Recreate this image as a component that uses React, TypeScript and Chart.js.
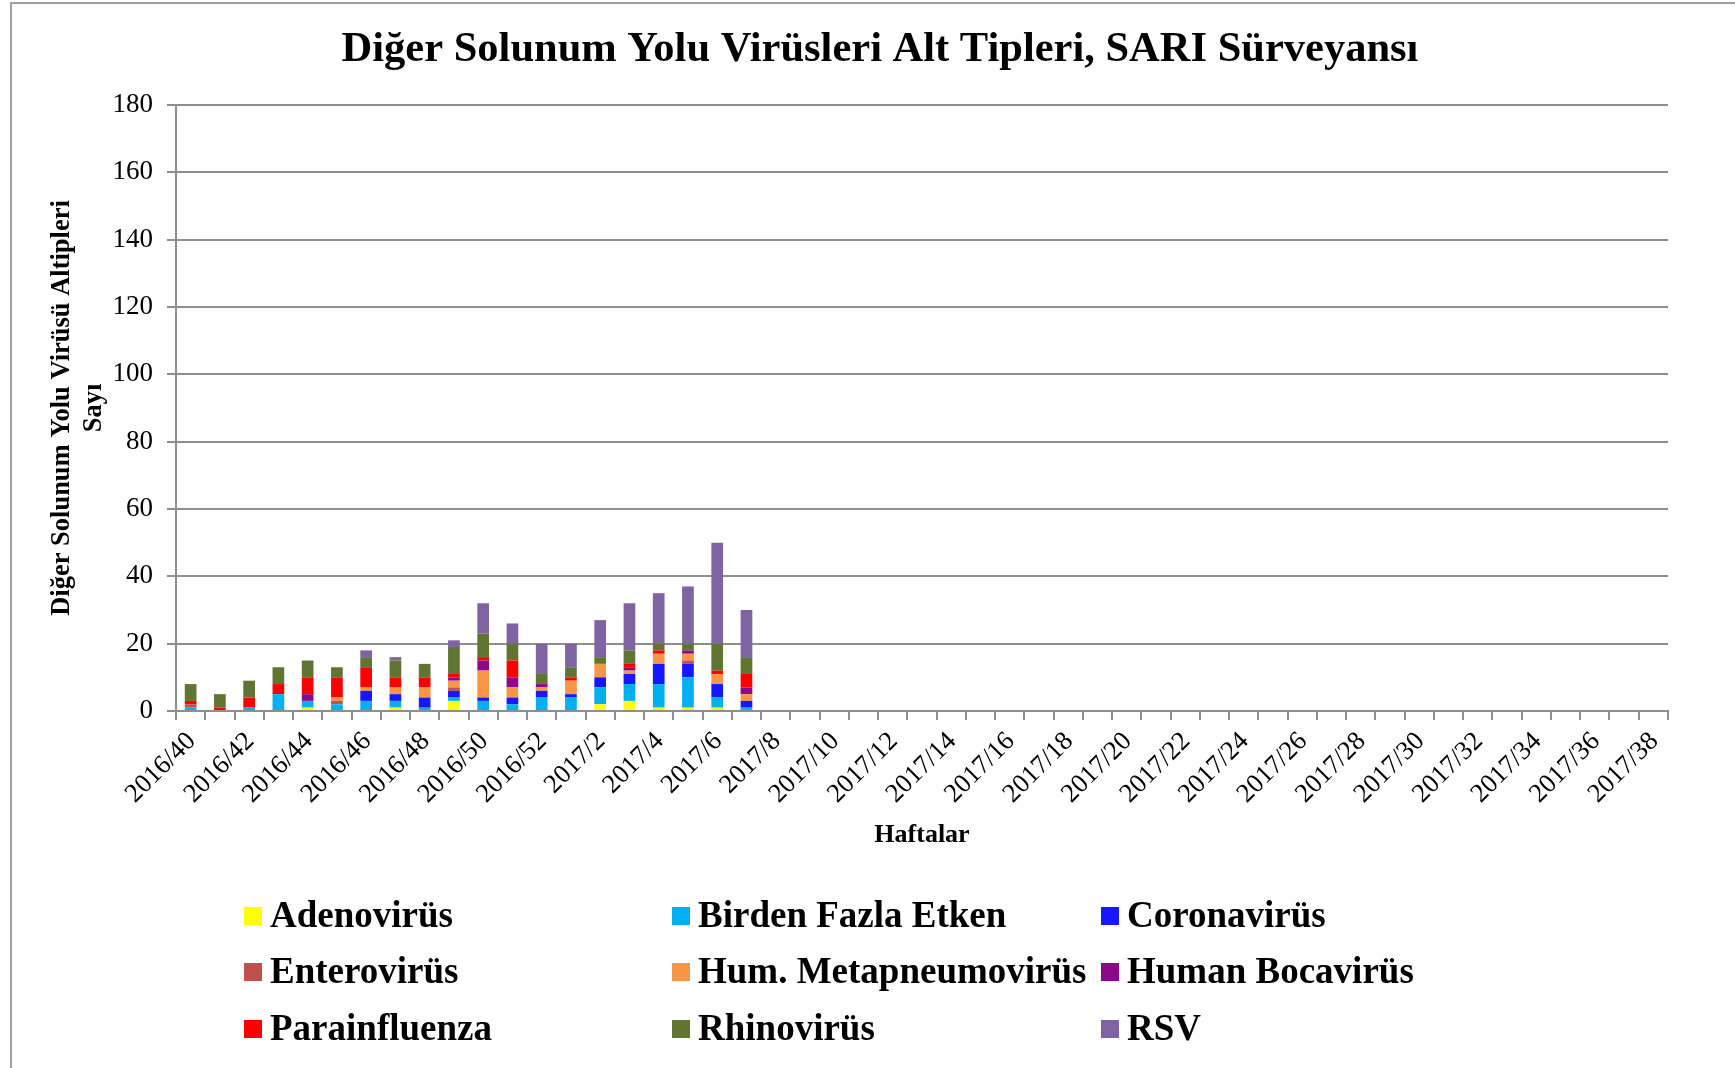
import React, { useEffect, useRef } from 'react';
import { Chart, registerables } from 'chart.js';

Chart.register(...registerables);

const WEEKS = [
  '2016/40', '2016/41', '2016/42', '2016/43', '2016/44', '2016/45', '2016/46', '2016/47', '2016/48', '2016/49',
  '2016/50', '2016/51', '2016/52', '2017/1', '2017/2', '2017/3', '2017/4', '2017/5', '2017/6', '2017/7',
  '2017/8', '2017/9', '2017/10', '2017/11', '2017/12', '2017/13', '2017/14', '2017/15', '2017/16', '2017/17',
  '2017/18', '2017/19', '2017/20', '2017/21', '2017/22', '2017/23', '2017/24', '2017/25', '2017/26', '2017/27',
  '2017/28', '2017/29', '2017/30', '2017/31', '2017/32', '2017/33', '2017/34', '2017/35', '2017/36', '2017/37',
  '2017/38',
];

const ADENOVIRUS = [0, 0, 0, 0, 1, 0, 0, 1, 0, 3, 0, 0, 0, 0, 2, 3, 1, 1, 1, 0];
const BIRDEN_FAZLA = [1, 0, 1, 5, 2, 2, 3, 2, 1, 1, 3, 2, 4, 4, 5, 5, 7, 9, 3, 1];
const CORONAVIRUS = [0, 0, 0, 0, 0, 0, 3, 2, 3, 2, 1, 2, 2, 1, 3, 3, 6, 4, 4, 2];
const ENTEROVIRUS = [1, 0, 0, 0, 0, 1, 0, 0, 0, 1, 0, 0, 0, 0, 0, 0, 0, 1, 0, 0];
const METAPNEUMO = [0, 0, 0, 0, 0, 1, 1, 2, 3, 2, 8, 3, 1, 4, 4, 1, 3, 2, 3, 2];
const BOCAVIRUS = [0, 0, 0, 0, 2, 0, 0, 0, 0, 1, 3, 3, 1, 0, 0, 1, 0, 1, 0, 2];
const PARAINFLUENZA = [1, 1, 3, 3, 5, 6, 6, 3, 3, 1, 1, 5, 0, 1, 0, 1, 1, 0, 1, 4];
const RHINOVIRUS = [5, 4, 5, 5, 5, 3, 3, 5, 4, 8, 7, 5, 3, 3, 2, 4, 2, 2, 8, 5];
const RSV = [0, 0, 0, 0, 0, 0, 2, 1, 0, 2, 9, 6, 9, 7, 11, 14, 15, 17, 30, 14];

const SERIES_NAMES = [
  'Adenovirüs', 'Birden Fazla Etken', 'Coronavirüs',
  'Enterovirüs', 'Hum. Metapneumovirüs', 'Human Bocavirüs',
  'Parainfluenza', 'Rhinovirüs', 'RSV',
];
const SERIES_VALUES = [
  ADENOVIRUS, BIRDEN_FAZLA, CORONAVIRUS,
  ENTEROVIRUS, METAPNEUMO, BOCAVIRUS,
  PARAINFLUENZA, RHINOVIRUS, RSV,
];
const SERIES_COLORS = [
  '#FFFF00', '#00B0F0', '#1616FF',
  '#C0504D', '#F79646', '#8B0A8B',
  '#FF0000', '#5F7531', '#8064A2',
];

const TITLE = 'Diğer Solunum Yolu Virüsleri Alt Tipleri, SARI Sürveyansı';
const Y_TITLE = ['Diğer Solunum Yolu Virüsü Altipleri', 'Sayı'];
const X_TITLE = 'Haftalar';

const SERIF = '"Liberation Serif", "Times New Roman", serif';
const GRID = '#8e8e8e';

const W = 1735;
const H = 1068;

const decorPlugin = {
  id: 'decor',
  beforeDraw(chart: any) {
    const ctx = chart.ctx;
    ctx.save();
    ctx.fillStyle = '#ffffff';
    ctx.fillRect(0, 0, chart.width, chart.height);
    ctx.strokeStyle = '#a0a0a0';
    ctx.lineWidth = 2;
    ctx.beginPath();
    ctx.moveTo(11, chart.height);
    ctx.lineTo(11, 3);
    ctx.lineTo(chart.width, 3);
    ctx.stroke();
    ctx.restore();
  },
  afterDraw(chart: any) {
    const ctx = chart.ctx;
    ctx.save();
    // Title
    ctx.fillStyle = '#000';
    ctx.font = `bold 42.5px ${SERIF}`;
    ctx.textAlign = 'center';
    ctx.textBaseline = 'middle';
    ctx.fillText(TITLE, 880, 50);

    // Legend (3 columns x 3 rows)
    const colSquareX = [244, 672, 1101];
    const rowY = [916, 972, 1029];
    ctx.font = `bold 37px ${SERIF}`;
    ctx.textAlign = 'left';
    chart.data.datasets.forEach((ds: any, i: number) => {
      const col = i % 3;
      const row = Math.floor(i / 3);
      const x = colSquareX[col];
      const y = rowY[row];
      ctx.fillStyle = ds.backgroundColor;
      ctx.fillRect(x, y - 9, 18, 18);
      ctx.fillStyle = '#000';
      ctx.fillText(ds.label, x + 26, y + 1);
    });
    ctx.restore();
  },
};

export default function App() {
  const canvasRef = useRef<HTMLCanvasElement | null>(null);

  useEffect(() => {
    const canvas = canvasRef.current;
    if (!canvas) return;
    const chart = new Chart(canvas, {
      type: 'bar',
      data: {
        labels: WEEKS,
        datasets: SERIES_NAMES.map((name, i) => ({
          label: name,
          data: SERIES_VALUES[i],
          backgroundColor: SERIES_COLORS[i],
          borderWidth: 0,
          categoryPercentage: 1,
          barPercentage: 0.4,
        })),
      },
      options: {
        responsive: false,
        animation: false,
        devicePixelRatio: 1,
        layout: { padding: { left: 0, top: 105, right: 67, bottom: 217 } },
        plugins: {
          legend: { display: false },
          title: { display: false },
          tooltip: { enabled: false },
        },
        scales: {
          x: {
            stacked: true,
            offset: true,
            grid: {
              display: true,
              drawOnChartArea: false,
              drawTicks: true,
              tickLength: 9,
              color: GRID,
              lineWidth: 2,
              offset: true,
            },
            border: { display: true, color: GRID, width: 2 },
            ticks: {
              autoSkip: false,
              minRotation: 45,
              maxRotation: 45,
              padding: 6,
              labelOffset: 1,
              color: '#000',
              font: { family: SERIF, size: 26.5 },
              callback: (_v: any, i: number) => (i % 2 === 0 ? WEEKS[i] : ''),
            },
            title: {
              display: true,
              text: X_TITLE,
              color: '#000',
              font: { family: SERIF, size: 26, weight: 'bold' },
              padding: { top: 0, bottom: 0 },
            },
            afterFit: (s: any) => {
              s.height = 140;
            },
          },
          y: {
            stacked: true,
            min: 0,
            max: 180,
            grid: {
              color: GRID,
              lineWidth: 2,
              drawTicks: true,
              tickLength: 9,
            },
            border: { display: true, color: GRID, width: 2 },
            ticks: {
              stepSize: 20,
              padding: 14,
              color: '#000',
              font: { family: SERIF, size: 27 },
            },
            title: {
              display: true,
              text: Y_TITLE,
              color: '#000',
              font: { family: SERIF, size: 26.5, weight: 'bold', lineHeight: 1.2 },
              padding: { top: 46, bottom: 0 },
            },
            afterFit: (s: any) => {
              s.width = 176;
            },
          },
        },
      },
      plugins: [decorPlugin],
    } as any);
    return () => chart.destroy();
  }, []);

  return (
    <div style={{ position: 'fixed', left: 0, top: 0, width: W, height: H, background: '#fff' }}>
      <canvas ref={canvasRef} width={W} height={H} style={{ display: 'block' }} />
    </div>
  );
}
